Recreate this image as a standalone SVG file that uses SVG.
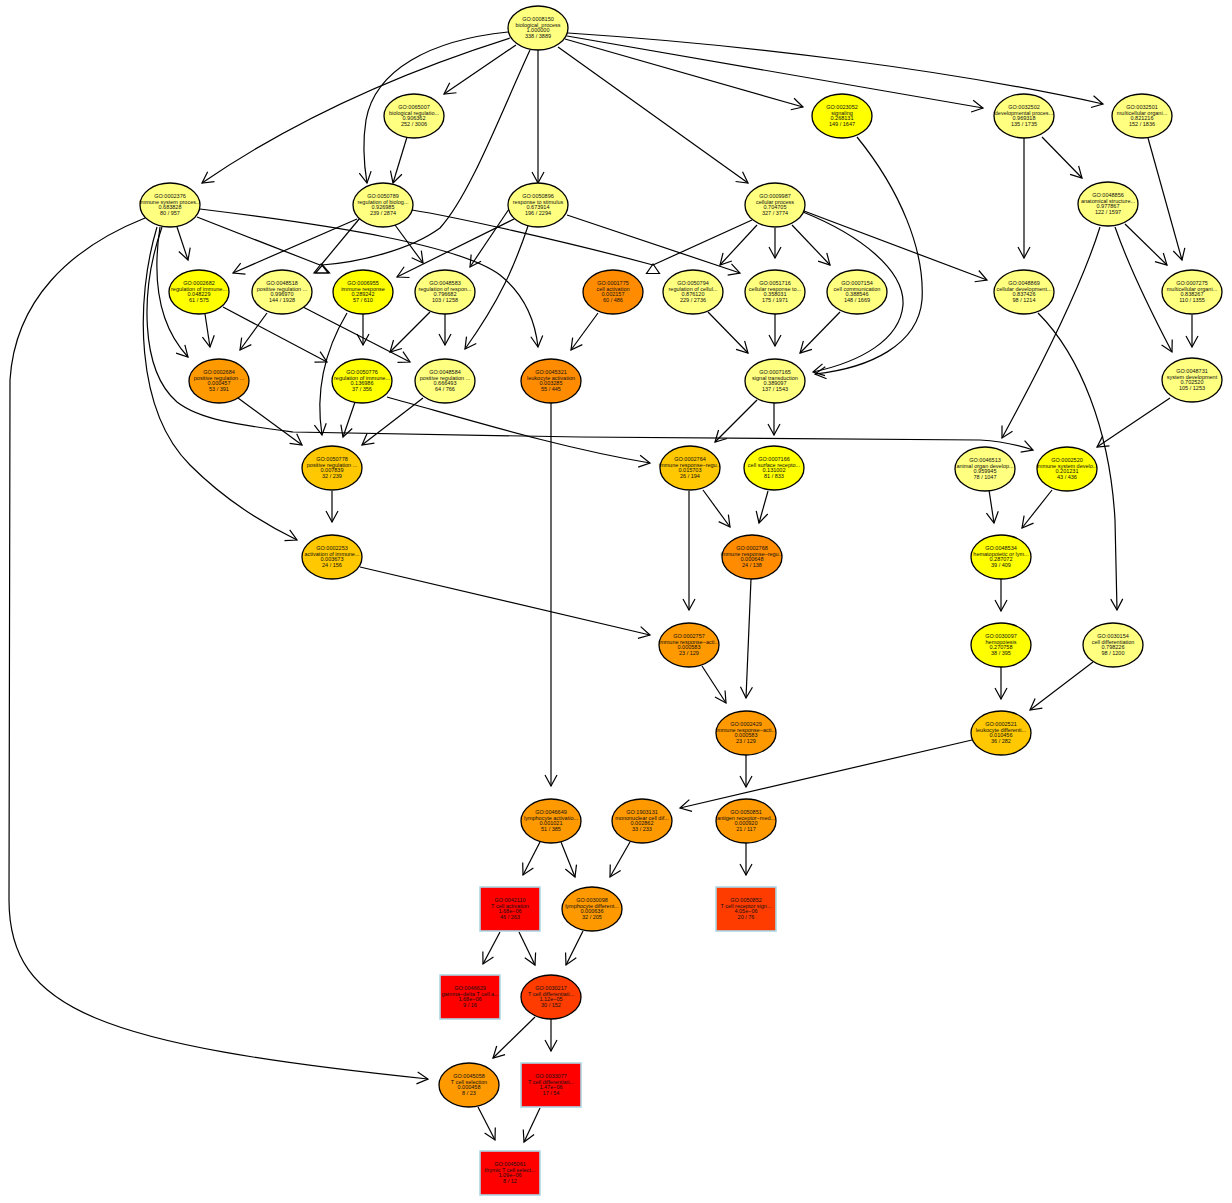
<svg xmlns="http://www.w3.org/2000/svg" width="1232" height="1203" viewBox="0 0 1232 1203">
<defs>
<style>
.n ellipse{stroke:#000;stroke-width:1.3}
.n rect{stroke:#add8e6;stroke-width:1.6}
.n text{font-family:"Liberation Sans",Arial,Helvetica,sans-serif;font-size:5.5px;text-anchor:middle;fill:#111}
.pale{fill:#ffff80}.yel{fill:#ffff00}.gold{fill:#ffc800}.org{fill:#ff9900}.dorg{fill:#ff8c00}.rorg{fill:#ff3c00}.red{fill:#ff0000}
#edges path{fill:none;stroke:#000;stroke-width:1.2;marker-end:url(#a)}
#edges polygon{fill:none;stroke:#000;stroke-width:1.2}
</style>
<marker id="a" markerUnits="userSpaceOnUse" markerWidth="14" markerHeight="14" viewBox="-12 -7 14 14" refX="0" refY="0" orient="auto">
<path d="M-11,-6 L0,0 L-11,6" fill="none" stroke="#000" stroke-width="1.2"/>
</marker>
</defs>
<rect width="1232" height="1203" fill="#fff"/>
<g id="edges">
<path d="M510,38 Q330,95 202,183"/>
<path d="M516,45 L444,94"/>
<path d="M508,32 C430,40 375,70 366,120 C362,145 364,165 367,183"/>
<path d="M538,50 L538,183"/>
<path d="M558,47 L748,183"/>
<path d="M565,39 L803,107"/>
<path d="M567,36 L983,108"/>
<path d="M568,33 C750,45 950,70 1103,104"/>
<path d="M530,50 C500,115 470,195 440,228 C410,250 360,262 322,265" marker-end="none" style="marker-end:none"/>
<path d="M407,137 L393,183"/>
<path d="M357,219 L233,273"/>
<path d="M360,218 L321,265" style="marker-end:none"/>
<path d="M395,225 L423,263"/>
<path d="M412,210 C450,216 560,240 653,265" style="marker-end:none"/>
<path d="M516,218 L397,277"/>
<path d="M509,209 L470,267"/>
<path d="M528,226 C515,265 500,300 465,349"/>
<path d="M567,215 L740,273"/>
<path d="M752,220 L653,265" style="marker-end:none"/>
<path d="M757,225 L720,265"/>
<path d="M775,228 L775,258"/>
<path d="M792,225 L830,265"/>
<path d="M804,211 L987,280"/>
<path d="M803,212 C860,235 905,270 903,305 C900,340 860,362 813,372"/>
<path d="M857,137 C900,190 925,250 922,300 C918,345 870,368 815,374"/>
<path d="M177,227 L188,260"/>
<path d="M160,227 C152,280 158,325 188,357"/>
<path d="M197,217 L320,265" style="marker-end:none"/>
<path d="M200,209 C330,225 460,245 500,275 C525,295 535,320 538,347"/>
<path d="M162,227 C140,290 140,370 177,402 C200,420 240,425 293,432 L580,437 L980,440 Q1010,442 1033,450"/>
<path d="M157,227 C135,300 135,410 190,465 C225,500 260,522 297,540"/>
<path d="M145,218 C70,248 15,300 10,380 L9,900 C9,1010 100,1045 428,1079"/>
<path d="M205,314 L210,347"/>
<path d="M223,307 L327,362"/>
<path d="M267,313 L240,350"/>
<path d="M303,307 L410,362"/>
<path d="M363,314 L363,345"/>
<path d="M347,313 C325,350 315,390 322,435"/>
<path d="M430,312 L390,352"/>
<path d="M445,314 L445,345"/>
<path d="M598,313 L571,350"/>
<path d="M708,312 L748,353"/>
<path d="M775,314 L775,346"/>
<path d="M840,312 L800,353"/>
<path d="M238,398 L302,445"/>
<path d="M355,402 L343,437"/>
<path d="M423,398 L362,445"/>
<path d="M387,397 C470,420 560,448 650,463"/>
<path d="M757,400 L715,442"/>
<path d="M774,403 L774,435"/>
<path d="M332,491 L332,522"/>
<path d="M360,567 L650,635"/>
<path d="M689,491 L689,610"/>
<path d="M703,490 L730,527"/>
<path d="M768,491 L759,523"/>
<path d="M702,666 L726,703"/>
<path d="M751,579 L746,698"/>
<path d="M551,403 L551,786"/>
<path d="M746,755 L746,787"/>
<path d="M972,740 L680,808"/>
<path d="M1093,662 L1030,710"/>
<path d="M1001,667 L1001,699"/>
<path d="M1001,579 L1001,611"/>
<path d="M989,490 L994,523"/>
<path d="M1052,490 L1022,528"/>
<path d="M1170,398 L1097,447"/>
<path d="M1100,227 C1085,275 1050,350 1002,438"/>
<path d="M1115,227 C1130,270 1150,310 1172,352"/>
<path d="M1125,224 L1167,265"/>
<path d="M1148,138 L1182,260"/>
<path d="M1024,138 L1024,258"/>
<path d="M1042,137 L1082,178"/>
<path d="M1192,315 L1192,347"/>
<path d="M1038,313 C1080,355 1110,430 1115,520 L1117,610"/>
<path d="M540,842 L523,875"/>
<path d="M561,842 L575,877"/>
<path d="M630,842 L610,877"/>
<path d="M746,843 L746,875"/>
<path d="M500,932 L483,964"/>
<path d="M519,932 L535,965"/>
<path d="M583,931 L566,965"/>
<path d="M535,1017 L493,1058"/>
<path d="M551,1019 L551,1051"/>
<path d="M478,1107 L495,1140"/>
<path d="M540,1108 L524,1142"/>
<polygon points="321,264 314,273 328,273"/>
<polygon points="322.5,265 315.5,273 329.5,273"/>
<polygon points="653,264 646.5,273.5 659.5,273.5"/>
</g>
<g id="GO0008150" class="n"><ellipse class="pale" cx="538" cy="28" rx="30" ry="22"/><text x="538" y="21"><tspan x="538">GO:0008150</tspan><tspan x="538" dy="5.7">biological_process</tspan><tspan x="538" dy="5.7">1.000000</tspan><tspan x="538" dy="5.7">338 / 3889</tspan></text></g>
<g id="GO0065007" class="n"><ellipse class="pale" cx="414" cy="116" rx="30" ry="22"/><text x="414" y="109"><tspan x="414">GO:0065007</tspan><tspan x="414" dy="5.7">biological regulatio...</tspan><tspan x="414" dy="5.7">0.906362</tspan><tspan x="414" dy="5.7">252 / 3006</tspan></text></g>
<g id="GO0023052" class="n"><ellipse class="yel" cx="842" cy="116" rx="30" ry="22"/><text x="842" y="109"><tspan x="842">GO:0023052</tspan><tspan x="842" dy="5.7">signaling</tspan><tspan x="842" dy="5.7">0.268131</tspan><tspan x="842" dy="5.7">149 / 1647</tspan></text></g>
<g id="GO0032502" class="n"><ellipse class="pale" cx="1024" cy="116" rx="30" ry="22"/><text x="1024" y="109"><tspan x="1024">GO:0032502</tspan><tspan x="1024" dy="5.7">developmental proces...</tspan><tspan x="1024" dy="5.7">0.969318</tspan><tspan x="1024" dy="5.7">135 / 1735</tspan></text></g>
<g id="GO0032501" class="n"><ellipse class="pale" cx="1142" cy="116" rx="30" ry="22"/><text x="1142" y="109"><tspan x="1142">GO:0032501</tspan><tspan x="1142" dy="5.7">multicellular organi...</tspan><tspan x="1142" dy="5.7">0.821216</tspan><tspan x="1142" dy="5.7">152 / 1836</tspan></text></g>
<g id="GO0002376" class="n"><ellipse class="pale" cx="170" cy="205" rx="30" ry="22"/><text x="170" y="198"><tspan x="170">GO:0002376</tspan><tspan x="170" dy="5.7">immune system proces...</tspan><tspan x="170" dy="5.7">0.683828</tspan><tspan x="170" dy="5.7">80 / 957</tspan></text></g>
<g id="GO0050789" class="n"><ellipse class="pale" cx="383" cy="205" rx="30" ry="22"/><text x="383" y="198"><tspan x="383">GO:0050789</tspan><tspan x="383" dy="5.7">regulation of biolog...</tspan><tspan x="383" dy="5.7">0.926985</tspan><tspan x="383" dy="5.7">239 / 2874</tspan></text></g>
<g id="GO0050896" class="n"><ellipse class="pale" cx="538" cy="205" rx="30" ry="22"/><text x="538" y="198"><tspan x="538">GO:0050896</tspan><tspan x="538" dy="5.7">response to stimulus</tspan><tspan x="538" dy="5.7">0.673914</tspan><tspan x="538" dy="5.7">196 / 2294</tspan></text></g>
<g id="GO0009987" class="n"><ellipse class="pale" cx="775" cy="205" rx="30" ry="22"/><text x="775" y="198"><tspan x="775">GO:0009987</tspan><tspan x="775" dy="5.7">cellular process</tspan><tspan x="775" dy="5.7">0.704705</tspan><tspan x="775" dy="5.7">327 / 3774</tspan></text></g>
<g id="GO0048856" class="n"><ellipse class="pale" cx="1108" cy="204" rx="30" ry="22"/><text x="1108" y="197"><tspan x="1108">GO:0048856</tspan><tspan x="1108" dy="5.7">anatomical structure...</tspan><tspan x="1108" dy="5.7">0.977867</tspan><tspan x="1108" dy="5.7">122 / 1597</tspan></text></g>
<g id="GO0002682" class="n"><ellipse class="yel" cx="199" cy="292" rx="30" ry="22"/><text x="199" y="285"><tspan x="199">GO:0002682</tspan><tspan x="199" dy="5.7">regulation of immune...</tspan><tspan x="199" dy="5.7">0.048229</tspan><tspan x="199" dy="5.7">61 / 575</tspan></text></g>
<g id="GO0048518" class="n"><ellipse class="pale" cx="282" cy="292" rx="30" ry="22"/><text x="282" y="285"><tspan x="282">GO:0048518</tspan><tspan x="282" dy="5.7">positive regulation ...</tspan><tspan x="282" dy="5.7">0.996970</tspan><tspan x="282" dy="5.7">144 / 1928</tspan></text></g>
<g id="GO0006955" class="n"><ellipse class="yel" cx="363" cy="292" rx="30" ry="22"/><text x="363" y="285"><tspan x="363">GO:0006955</tspan><tspan x="363" dy="5.7">immune response</tspan><tspan x="363" dy="5.7">0.289242</tspan><tspan x="363" dy="5.7">57 / 610</tspan></text></g>
<g id="GO0048583" class="n"><ellipse class="pale" cx="445" cy="292" rx="30" ry="22"/><text x="445" y="285"><tspan x="445">GO:0048583</tspan><tspan x="445" dy="5.7">regulation of respon...</tspan><tspan x="445" dy="5.7">0.796682</tspan><tspan x="445" dy="5.7">103 / 1258</tspan></text></g>
<g id="GO0001775" class="n"><ellipse class="dorg" cx="613" cy="292" rx="30" ry="22"/><text x="613" y="285"><tspan x="613">GO:0001775</tspan><tspan x="613" dy="5.7">cell activation</tspan><tspan x="613" dy="5.7">0.002157</tspan><tspan x="613" dy="5.7">60 / 486</tspan></text></g>
<g id="GO0050794" class="n"><ellipse class="pale" cx="693" cy="292" rx="30" ry="22"/><text x="693" y="285"><tspan x="693">GO:0050794</tspan><tspan x="693" dy="5.7">regulation of cellul...</tspan><tspan x="693" dy="5.7">0.876120</tspan><tspan x="693" dy="5.7">229 / 2736</tspan></text></g>
<g id="GO0051716" class="n"><ellipse class="pale" cx="775" cy="292" rx="30" ry="22"/><text x="775" y="285"><tspan x="775">GO:0051716</tspan><tspan x="775" dy="5.7">cellular response to...</tspan><tspan x="775" dy="5.7">0.358031</tspan><tspan x="775" dy="5.7">175 / 1971</tspan></text></g>
<g id="GO0007154" class="n"><ellipse class="pale" cx="857" cy="292" rx="30" ry="22"/><text x="857" y="285"><tspan x="857">GO:0007154</tspan><tspan x="857" dy="5.7">cell communication</tspan><tspan x="857" dy="5.7">0.388546</tspan><tspan x="857" dy="5.7">148 / 1669</tspan></text></g>
<g id="GO0048869" class="n"><ellipse class="pale" cx="1024" cy="292" rx="30" ry="22"/><text x="1024" y="285"><tspan x="1024">GO:0048869</tspan><tspan x="1024" dy="5.7">cellular development...</tspan><tspan x="1024" dy="5.7">0.837426</tspan><tspan x="1024" dy="5.7">98 / 1214</tspan></text></g>
<g id="GO0007275" class="n"><ellipse class="pale" cx="1192" cy="292" rx="30" ry="22"/><text x="1192" y="285"><tspan x="1192">GO:0007275</tspan><tspan x="1192" dy="5.7">multicellular organi...</tspan><tspan x="1192" dy="5.7">0.838267</tspan><tspan x="1192" dy="5.7">110 / 1355</tspan></text></g>
<g id="GO0002684" class="n"><ellipse class="org" cx="219" cy="381" rx="30" ry="22"/><text x="219" y="374"><tspan x="219">GO:0002684</tspan><tspan x="219" dy="5.7">positive regulation ...</tspan><tspan x="219" dy="5.7">0.000457</tspan><tspan x="219" dy="5.7">53 / 391</tspan></text></g>
<g id="GO0050776" class="n"><ellipse class="yel" cx="362" cy="381" rx="30" ry="22"/><text x="362" y="374"><tspan x="362">GO:0050776</tspan><tspan x="362" dy="5.7">regulation of immune...</tspan><tspan x="362" dy="5.7">0.136986</tspan><tspan x="362" dy="5.7">37 / 356</tspan></text></g>
<g id="GO0048584" class="n"><ellipse class="pale" cx="445" cy="381" rx="30" ry="22"/><text x="445" y="374"><tspan x="445">GO:0048584</tspan><tspan x="445" dy="5.7">positive regulation ...</tspan><tspan x="445" dy="5.7">0.666493</tspan><tspan x="445" dy="5.7">64 / 766</tspan></text></g>
<g id="GO0045321" class="n"><ellipse class="dorg" cx="551" cy="381" rx="30" ry="22"/><text x="551" y="374"><tspan x="551">GO:0045321</tspan><tspan x="551" dy="5.7">leukocyte activation</tspan><tspan x="551" dy="5.7">0.003285</tspan><tspan x="551" dy="5.7">55 / 445</tspan></text></g>
<g id="GO0007165" class="n"><ellipse class="pale" cx="775" cy="381" rx="30" ry="22"/><text x="775" y="374"><tspan x="775">GO:0007165</tspan><tspan x="775" dy="5.7">signal transduction</tspan><tspan x="775" dy="5.7">0.389097</tspan><tspan x="775" dy="5.7">137 / 1543</tspan></text></g>
<g id="GO0048731" class="n"><ellipse class="pale" cx="1192" cy="380" rx="30" ry="22"/><text x="1192" y="373"><tspan x="1192">GO:0048731</tspan><tspan x="1192" dy="5.7">system development</tspan><tspan x="1192" dy="5.7">0.702520</tspan><tspan x="1192" dy="5.7">105 / 1253</tspan></text></g>
<g id="GO0050778" class="n"><ellipse class="gold" cx="332" cy="468" rx="30" ry="22"/><text x="332" y="461"><tspan x="332">GO:0050778</tspan><tspan x="332" dy="5.7">positive regulation ...</tspan><tspan x="332" dy="5.7">0.007839</tspan><tspan x="332" dy="5.7">32 / 239</tspan></text></g>
<g id="GO0002764" class="n"><ellipse class="gold" cx="690" cy="468" rx="30" ry="22"/><text x="690" y="461"><tspan x="690">GO:0002764</tspan><tspan x="690" dy="5.7">immune response−regu...</tspan><tspan x="690" dy="5.7">0.015703</tspan><tspan x="690" dy="5.7">26 / 194</tspan></text></g>
<g id="GO0007166" class="n"><ellipse class="yel" cx="774" cy="468" rx="30" ry="22"/><text x="774" y="461"><tspan x="774">GO:0007166</tspan><tspan x="774" dy="5.7">cell surface recepto...</tspan><tspan x="774" dy="5.7">0.131002</tspan><tspan x="774" dy="5.7">81 / 833</tspan></text></g>
<g id="GO0046513" class="n"><ellipse class="pale" cx="985" cy="469" rx="30" ry="22"/><text x="985" y="462"><tspan x="985">GO:0046513</tspan><tspan x="985" dy="5.7">animal organ develop...</tspan><tspan x="985" dy="5.7">0.959945</tspan><tspan x="985" dy="5.7">78 / 1047</tspan></text></g>
<g id="GO0002520" class="n"><ellipse class="yel" cx="1067" cy="469" rx="30" ry="22"/><text x="1067" y="462"><tspan x="1067">GO:0002520</tspan><tspan x="1067" dy="5.7">immune system develo...</tspan><tspan x="1067" dy="5.7">0.201231</tspan><tspan x="1067" dy="5.7">43 / 436</tspan></text></g>
<g id="GO0002253" class="n"><ellipse class="gold" cx="332" cy="557" rx="30" ry="22"/><text x="332" y="550"><tspan x="332">GO:0002253</tspan><tspan x="332" dy="5.7">activation of immune...</tspan><tspan x="332" dy="5.7">0.003673</tspan><tspan x="332" dy="5.7">24 / 156</tspan></text></g>
<g id="GO0002768" class="n"><ellipse class="dorg" cx="752" cy="557" rx="30" ry="22"/><text x="752" y="550"><tspan x="752">GO:0002768</tspan><tspan x="752" dy="5.7">immune response−regu...</tspan><tspan x="752" dy="5.7">0.000648</tspan><tspan x="752" dy="5.7">24 / 138</tspan></text></g>
<g id="GO0048534" class="n"><ellipse class="yel" cx="1001" cy="557" rx="30" ry="22"/><text x="1001" y="550"><tspan x="1001">GO:0048534</tspan><tspan x="1001" dy="5.7">hematopoietic or lym...</tspan><tspan x="1001" dy="5.7">0.287072</tspan><tspan x="1001" dy="5.7">39 / 409</tspan></text></g>
<g id="GO0002757" class="n"><ellipse class="org" cx="689" cy="645" rx="30" ry="22"/><text x="689" y="638"><tspan x="689">GO:0002757</tspan><tspan x="689" dy="5.7">immune response−acti...</tspan><tspan x="689" dy="5.7">0.000583</tspan><tspan x="689" dy="5.7">23 / 129</tspan></text></g>
<g id="GO0030097" class="n"><ellipse class="yel" cx="1001" cy="645" rx="30" ry="22"/><text x="1001" y="638"><tspan x="1001">GO:0030097</tspan><tspan x="1001" dy="5.7">hemopoiesis</tspan><tspan x="1001" dy="5.7">0.270758</tspan><tspan x="1001" dy="5.7">38 / 395</tspan></text></g>
<g id="GO0030154" class="n"><ellipse class="pale" cx="1113" cy="645" rx="30" ry="22"/><text x="1113" y="638"><tspan x="1113">GO:0030154</tspan><tspan x="1113" dy="5.7">cell differentiation</tspan><tspan x="1113" dy="5.7">0.798226</tspan><tspan x="1113" dy="5.7">98 / 1200</tspan></text></g>
<g id="GO0002429" class="n"><ellipse class="org" cx="746" cy="733" rx="30" ry="22"/><text x="746" y="726"><tspan x="746">GO:0002429</tspan><tspan x="746" dy="5.7">immune response−acti...</tspan><tspan x="746" dy="5.7">0.000583</tspan><tspan x="746" dy="5.7">23 / 129</tspan></text></g>
<g id="GO0002521" class="n"><ellipse class="gold" cx="1001" cy="733" rx="30" ry="22"/><text x="1001" y="726"><tspan x="1001">GO:0002521</tspan><tspan x="1001" dy="5.7">leukocyte differenti...</tspan><tspan x="1001" dy="5.7">0.010456</tspan><tspan x="1001" dy="5.7">36 / 282</tspan></text></g>
<g id="GO0046649" class="n"><ellipse class="org" cx="551" cy="821" rx="30" ry="22"/><text x="551" y="814"><tspan x="551">GO:0046649</tspan><tspan x="551" dy="5.7">lymphocyte activatio...</tspan><tspan x="551" dy="5.7">0.001021</tspan><tspan x="551" dy="5.7">51 / 385</tspan></text></g>
<g id="GO1903131" class="n"><ellipse class="org" cx="642" cy="821" rx="30" ry="22"/><text x="642" y="814"><tspan x="642">GO:1903131</tspan><tspan x="642" dy="5.7">mononuclear cell dif...</tspan><tspan x="642" dy="5.7">0.002862</tspan><tspan x="642" dy="5.7">33 / 233</tspan></text></g>
<g id="GO0050851" class="n"><ellipse class="org" cx="746" cy="821" rx="30" ry="22"/><text x="746" y="814"><tspan x="746">GO:0050851</tspan><tspan x="746" dy="5.7">antigen receptor−med...</tspan><tspan x="746" dy="5.7">0.000920</tspan><tspan x="746" dy="5.7">21 / 117</tspan></text></g>
<g id="GO0042110" class="n"><rect class="red" x="480" y="887" width="60" height="44"/><text x="510" y="902"><tspan x="510">GO:0042110</tspan><tspan x="510" dy="5.7">T cell activation</tspan><tspan x="510" dy="5.7">1.68e−06</tspan><tspan x="510" dy="5.7">46 / 263</tspan></text></g>
<g id="GO0030098" class="n"><ellipse class="org" cx="592" cy="909" rx="30" ry="22"/><text x="592" y="902"><tspan x="592">GO:0030098</tspan><tspan x="592" dy="5.7">lymphocyte different...</tspan><tspan x="592" dy="5.7">0.000636</tspan><tspan x="592" dy="5.7">32 / 205</tspan></text></g>
<g id="GO0050852" class="n"><rect class="rorg" x="716" y="887" width="60" height="44"/><text x="746" y="902"><tspan x="746">GO:0050852</tspan><tspan x="746" dy="5.7">T cell receptor sign...</tspan><tspan x="746" dy="5.7">4.05e−06</tspan><tspan x="746" dy="5.7">20 / 76</tspan></text></g>
<g id="GO0046629" class="n"><rect class="red" x="440" y="975" width="60" height="44"/><text x="470" y="990"><tspan x="470">GO:0046629</tspan><tspan x="470" dy="5.7">gamma−delta T cell a...</tspan><tspan x="470" dy="5.7">1.68e−06</tspan><tspan x="470" dy="5.7">9 / 16</tspan></text></g>
<g id="GO0030217" class="n"><ellipse class="rorg" cx="551" cy="997" rx="30" ry="22"/><text x="551" y="990"><tspan x="551">GO:0030217</tspan><tspan x="551" dy="5.7">T cell differentiati...</tspan><tspan x="551" dy="5.7">1.12e−05</tspan><tspan x="551" dy="5.7">30 / 152</tspan></text></g>
<g id="GO0045058" class="n"><ellipse class="org" cx="469" cy="1085" rx="30" ry="22"/><text x="469" y="1078"><tspan x="469">GO:0045058</tspan><tspan x="469" dy="5.7">T cell selection</tspan><tspan x="469" dy="5.7">0.000458</tspan><tspan x="469" dy="5.7">8 / 23</tspan></text></g>
<g id="GO0033077" class="n"><rect class="red" x="521" y="1063" width="60" height="44"/><text x="551" y="1078"><tspan x="551">GO:0033077</tspan><tspan x="551" dy="5.7">T cell differentiati...</tspan><tspan x="551" dy="5.7">1.47e−06</tspan><tspan x="551" dy="5.7">17 / 54</tspan></text></g>
<g id="GO0045061" class="n"><rect class="red" x="480" y="1151" width="60" height="44"/><text x="510" y="1166"><tspan x="510">GO:0045061</tspan><tspan x="510" dy="5.7">thymic T cell select...</tspan><tspan x="510" dy="5.7">1.09e−06</tspan><tspan x="510" dy="5.7">8 / 12</tspan></text></g>
</svg>
